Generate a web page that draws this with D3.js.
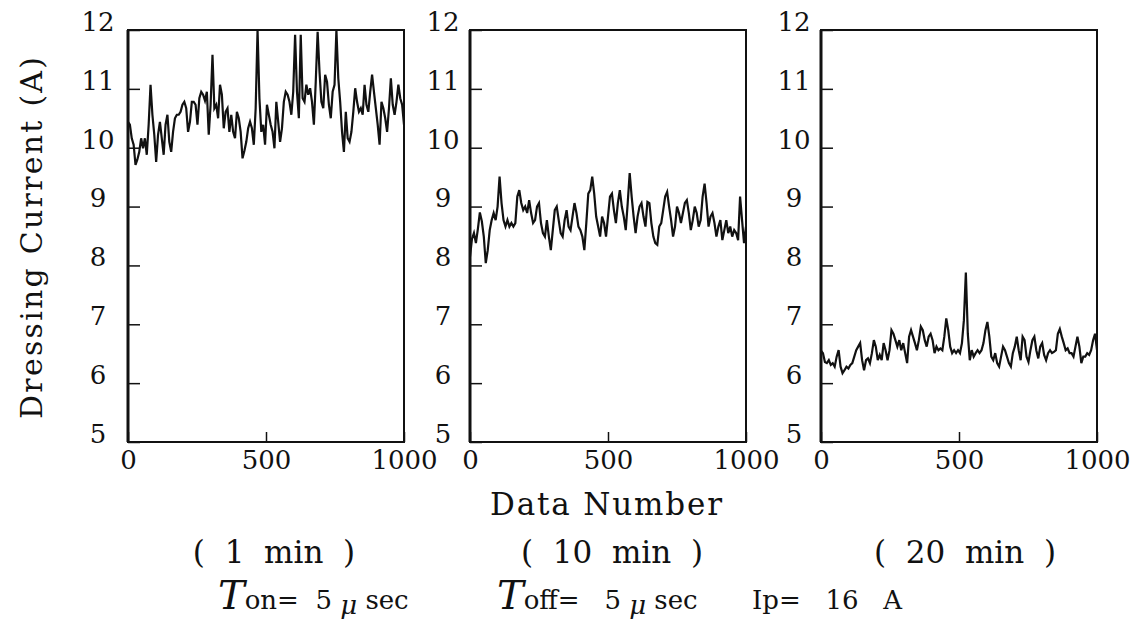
<!DOCTYPE html>
<html>
<head>
<meta charset="utf-8">
<script src="https://cdn.jsdelivr.net/npm/d3@7"></script>
<style>
  body { margin: 0; background: #fff; }
  text { font-family: "DejaVu Serif", "Liberation Serif", serif; fill: #111; }
</style>
</head>
<body>
<div id="chart"></div>
<script>
// Chart data
var panelLabels = ["( 1 min )", "( 10 min )", "( 20 min )"];
var yTicks = [5, 6, 7, 8, 9, 10, 11, 12];
var xTicks = [0, 500, 1000];

// Dressing current (A), samples evenly spread over data number 0..1000
var current1min = [
  10.44, 10.39, 10.16, 10.05, 9.71, 9.80, 9.93, 10.16, 9.99, 10.16,
  9.88, 10.39, 11.07, 10.56, 10.22, 9.76, 10.22, 10.44, 10.16, 9.88,
  10.39, 10.56, 10.10, 9.93, 10.27, 10.50, 10.56, 10.56, 10.61, 10.73,
  10.78, 10.67, 10.27, 10.44, 10.78, 10.78, 10.73, 10.39, 10.84, 10.95,
  10.90, 10.80, 10.95, 10.22, 10.73, 11.58, 10.67, 10.73, 10.50, 11.07,
  10.90, 10.33, 10.61, 10.67, 10.27, 10.56, 10.27, 10.16, 10.61, 10.50,
  10.27, 9.82, 9.95, 10.10, 10.33, 10.44, 10.33, 10.05, 10.67, 12.0,
  10.84, 10.27,
  10.39, 10.05, 10.73, 10.56, 10.39, 10.27, 9.99, 10.78, 10.44, 10.10,
  10.33, 10.78, 10.95, 10.90, 10.78, 10.56, 10.95, 11.92, 10.95, 10.50,
  11.92, 10.84, 10.78, 11.07, 10.90, 11.01, 10.78, 10.39, 11.12, 11.97,
  11.29, 10.78, 10.67, 11.24, 11.12, 10.73, 10.50, 10.95, 11.07, 12.0,
  11.18, 10.78, 10.27, 9.93, 10.61, 10.16, 10.10, 10.27, 10.61, 11.01,
  10.78, 10.61, 10.67, 10.56, 11.07, 10.73, 10.61, 10.95, 11.24, 10.95,
  10.67, 10.39, 10.05, 10.78, 10.67, 10.50, 10.27, 10.67, 11.18, 10.73,
  10.56, 10.78, 11.07, 10.84, 10.73, 10.39
];
var current10min = [
  8.15, 8.45, 8.55, 8.38, 8.62, 8.90, 8.75, 8.49, 8.04, 8.26,
  8.60, 8.77, 8.89, 8.77, 9.00, 9.51, 9.06, 8.77, 8.66, 8.77,
  8.66, 8.72, 8.66, 8.72, 9.17, 9.28, 9.06, 8.94, 9.00, 8.89,
  9.11, 8.89, 8.72, 8.77, 9.00, 9.06, 8.72, 8.55, 8.49, 8.77,
  8.49, 8.26, 8.60, 8.94, 9.00, 8.77, 8.55, 8.49, 8.77, 8.94,
  8.66, 8.60, 8.83, 9.06, 8.89, 8.66, 8.60, 8.49, 8.26, 8.72,
  9.22, 9.28, 9.51, 9.22, 8.83, 8.66, 8.49, 8.83, 8.72, 8.49,
  8.83, 9.17, 9.22, 8.94, 8.72, 9.06, 9.28, 9.00, 8.83,
  8.60, 9.06, 9.57, 9.17, 8.83, 8.55, 8.83, 9.00, 9.06, 8.83,
  8.66, 9.08, 9.06, 8.72, 8.49, 8.38, 8.35, 8.66, 8.72, 8.94,
  9.17, 9.25, 9.00, 8.77, 8.49, 8.66, 9.00, 8.89, 8.72, 8.89,
  9.06, 9.11, 8.89, 8.60, 8.77, 9.00, 8.89, 8.66, 8.77, 9.17,
  9.39, 9.06, 8.66, 8.83, 8.89, 8.72, 8.49, 8.66, 8.77, 8.43,
  8.60, 8.77, 8.55, 8.66, 8.49, 8.60, 8.55, 8.43, 9.17, 8.77,
  8.38, 8.66
];
var current20min = [
  6.55, 6.51, 6.36, 6.34, 6.39, 6.31, 6.34, 6.28, 6.45, 6.56,
  6.28, 6.17, 6.22, 6.28, 6.25, 6.31, 6.34, 6.45, 6.56, 6.62,
  6.68, 6.39, 6.22, 6.39, 6.42, 6.34, 6.51, 6.73, 6.62, 6.39,
  6.48, 6.39, 6.68, 6.56, 6.39, 6.56, 6.90, 6.84, 6.73, 6.62,
  6.73, 6.56, 6.68, 6.51, 6.34, 6.79, 6.90, 6.79, 6.68, 6.56,
  6.73, 6.96, 6.90, 6.73, 6.62, 6.79, 6.84, 6.73, 6.51, 6.62,
  6.56, 6.59, 6.56, 6.79, 7.10, 6.90, 6.62, 6.51, 6.56,
  6.51, 6.56, 6.51, 6.68, 7.07, 7.88, 6.84, 6.39, 6.56, 6.45,
  6.51, 6.56, 6.51, 6.56, 6.68, 6.90, 7.04, 6.79, 6.45, 6.39,
  6.51, 6.34, 6.28, 6.45, 6.62, 6.56, 6.45, 6.34, 6.28, 6.51,
  6.62, 6.79, 6.56, 6.39, 6.79, 6.73, 6.45, 6.36, 6.56, 6.73,
  6.79, 6.56, 6.42, 6.62, 6.68, 6.48, 6.39, 6.51, 6.56, 6.51,
  6.53, 6.56, 6.84, 6.92, 6.79, 6.68, 6.56, 6.59, 6.51, 6.51,
  6.45, 6.62, 6.79, 6.62, 6.34, 6.45, 6.45, 6.51, 6.48, 6.56,
  6.73, 6.84, 6.56
];
var series = [current1min, current10min, current20min];

// Layout
var svgWidth = 1132;
var svgHeight = 620;
var panelLeft = [128, 470, 821];
var labelOffset = [30, 27, 27];
var captionCenter = [274, 612, 965];
var panelTop = 30;
var panelWidth = 276;
var panelHeight = 412;

var svg = d3.select("#chart").append("svg")
    .attr("width", svgWidth)
    .attr("height", svgHeight);

// Shared scales
var xScale = d3.scaleLinear().domain([0, 1000]).range([0, panelWidth]);
var yScale = d3.scaleLinear().domain([5, 12]).range([panelHeight, 0]);

var line = d3.line()
    .x(d => xScale(d[0]))
    .y(d => yScale(d[1]));

series.forEach(function(values, p) {
    var g = svg.append("g")
        .attr("transform", `translate(${panelLeft[p]}, ${panelTop})`);

    // clip so the spikes stop at the frame
    g.append("clipPath").attr("id", "clip" + p)
        .append("rect")
        .attr("width", panelWidth)
        .attr("height", panelHeight);

    // left axis, ticks pointing inside
    var leftAxis = d3.axisLeft(yScale)
        .tickValues(yTicks)
        .tickSize(-12)
        .tickFormat(d3.format("d"));
    var ya = g.append("g").call(leftAxis);
    ya.select(".domain").remove();
    ya.selectAll("line").attr("stroke", "#111").attr("stroke-width", 1.5);
    ya.selectAll("text")
        .attr("x", -labelOffset[p])
        .attr("y", -8)
        .attr("text-anchor", "middle")
        .style("font-size", "26px")
        .style("font-family", "DejaVu Serif");

    // bottom axis, only the 500 tick shows inside
    var bottomAxis = d3.axisBottom(xScale)
        .tickValues(xTicks)
        .tickSize(-10)
        .tickPadding(9)
        .tickFormat(d3.format("d"));
    var xa = g.append("g")
        .attr("transform", `translate(0, ${panelHeight})`)
        .call(bottomAxis);
    xa.select(".domain").remove();
    xa.selectAll("line").attr("stroke", "#111").attr("stroke-width", 1.5);
    xa.selectAll("text")
        .style("font-size", "26px")
        .style("font-family", "DejaVu Serif");

    // frame
    g.append("rect")
        .attr("width", panelWidth)
        .attr("height", panelHeight)
        .attr("fill", "none")
        .attr("stroke", "#111")
        .attr("stroke-width", 2);
    g.append("line")
        .attr("x1", 0).attr("x2", 0)
        .attr("y1", 0).attr("y2", panelHeight)
        .attr("stroke", "#111")
        .attr("stroke-width", 3);

    // current trace
    var pts = values.map((v, i) => [i * 1000 / (values.length - 1), v]);
    g.append("path")
        .datum(pts)
        .attr("clip-path", `url(#clip${p})`)
        .attr("fill", "none")
        .attr("stroke", "#111")
        .attr("stroke-width", 2.2)
        .attr("stroke-linejoin", "miter")
        .attr("d", line);

    // time label under each panel
    svg.append("text")
        .attr("x", captionCenter[p])
        .attr("y", 563)
        .attr("text-anchor", "middle")
        .style("font-size", "31px")
        .text(panelLabels[p].replace(/ /g, "\u00a0\u00a0"));
});

// y axis title
svg.append("text")
    .attr("transform", "translate(42, 238) rotate(-90)")
    .attr("text-anchor", "middle")
    .attr("textLength", 362)
    .attr("lengthAdjust", "spacing")
    .style("font-size", "30px")
    .text("Dressing\u00a0Current\u00a0(A)");

// x axis title
svg.append("text")
    .attr("x", 606)
    .attr("y", 515)
    .attr("text-anchor", "middle")
    .attr("textLength", 232)
    .attr("lengthAdjust", "spacing")
    .style("font-size", "31px")
    .text("Data\u00a0Number");

// pulse conditions
var cond = svg.append("text")
    .attr("x", 218)
    .attr("y", 609)
    .style("font-size", "27px");
cond.append("tspan").attr("font-style", "italic").style("font-size", "40px").text("T");
cond.append("tspan").style("font-size", "26px").text("on=\u00a0\u00a05\u00a0");
cond.append("tspan").attr("font-style", "italic").attr("dy", 5).style("font-size", "26px").text("μ");
cond.append("tspan").attr("dy", -5).style("font-size", "26px").text("\u00a0sec");

cond.append("tspan").attr("x", 497).attr("font-style", "italic").style("font-size", "40px").text("T");
cond.append("tspan").style("font-size", "26px").text("off=\u00a0\u00a0\u00a05\u00a0");
cond.append("tspan").attr("font-style", "italic").attr("dy", 5).style("font-size", "26px").text("μ");
cond.append("tspan").attr("dy", -5).style("font-size", "26px").text("\u00a0sec");

cond.append("tspan").attr("x", 752).style("font-size", "26px").text("Ip=\u00a0\u00a0\u00a016\u00a0\u00a0\u00a0A");
</script>
</body>
</html>
